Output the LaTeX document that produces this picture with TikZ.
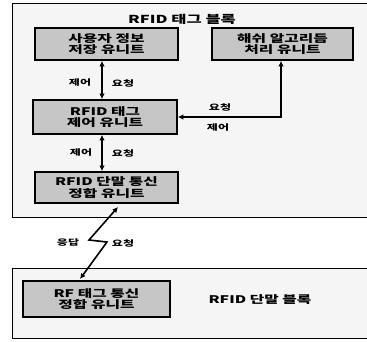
\documentclass[tikz,border=0pt]{standalone}
\usepackage{fontspec}
\newfontfamily\kr{Noto Sans CJK KR}[FakeStretch=1.5]
\usetikzlibrary{arrows.meta}
\begin{document}
\begin{tikzpicture}[x=1pt,y=-1pt,
  txt/.style={font=\kr\bfseries\fontsize{10.5}{11.5}\selectfont, align=center},
  unit/.style={txt, draw=black, line width=1.7pt, fill=gray!45, inner sep=0pt},
  block/.style={draw=black, line width=0.9pt, fill=gray!8},
  lbl/.style={font=\kr\bfseries\fontsize{8}{9}\selectfont, inner sep=0pt},
  dbl/.style={line width=1.6pt, {Latex[length=5.5pt,width=5.5pt]}-{Latex[length=5.5pt,width=5.5pt]}},
]
\useasboundingbox (0,0) rectangle (367,341);
\fill[white] (0,0) rectangle (367,341);
% blocks
\draw[block] (12,3) rectangle (380,217);
\draw[block] (12,268) rectangle (380,338);
% title
\node[txt, font=\kr\bfseries\fontsize{11}{12}\selectfont] (t) at (182,19) {RFID 태그 블록};
% units
\node[unit, minimum width=143pt, minimum height=32pt] (u1) at (106.5,44) {사용자 정보\\저장 유니트};
\node[unit, minimum width=141pt, minimum height=32pt] (u2) at (282.5,44) {해쉬 알고리듬\\처리 유니트};
\node[unit, minimum width=144pt, minimum height=34pt] (u3) at (105,117) {RFID 태그\\제어 유니트};
\node[unit, minimum width=143pt, minimum height=31pt] (u4) at (106.5,187.5) {RFID 단말 통신\\정합 유니트};
\node[unit, minimum width=147pt, minimum height=36pt] (u5) at (96.5,299) {RF 태그 통신\\정합 유니트};
\node[txt] (b2) at (260,300) {RFID 단말 블록};
% vertical connectors
\draw[dbl] ([xshift=-4.5pt]u1.south) -- ([xshift=-4.5pt]u1.south |- u3.north);
\node[lbl] (l1) at (80,83) {제어};
\node[lbl] (l2) at (123,83) {요청};
\draw[dbl] ([xshift=-4.5pt]u4.north) -- ([xshift=-4.5pt]u4.north |- u3.south);
\node[lbl] (l3) at (81,153) {제어};
\node[lbl] (l4) at (123,153) {요청};
% right connector
\draw[dbl] ([xshift=-1.5pt]u2.south) |- (u3.east);
\node[lbl] (l5) at (220,107) {요청};
\node[lbl] (l6) at (218,128) {제어};
% lightning
\coordinate (z1) at (118,207);
\coordinate (z2) at (89,240);
\coordinate (z3) at (107,242);
\coordinate (z4) at (80,279);
\draw[dbl, line join=miter] (z1) -- (z2) -- (z3) -- (z4);
\node[lbl] (l7) at (68,243) {응답};
\node[lbl] (l8) at (123,243) {요청};
\end{tikzpicture}
\end{document}
